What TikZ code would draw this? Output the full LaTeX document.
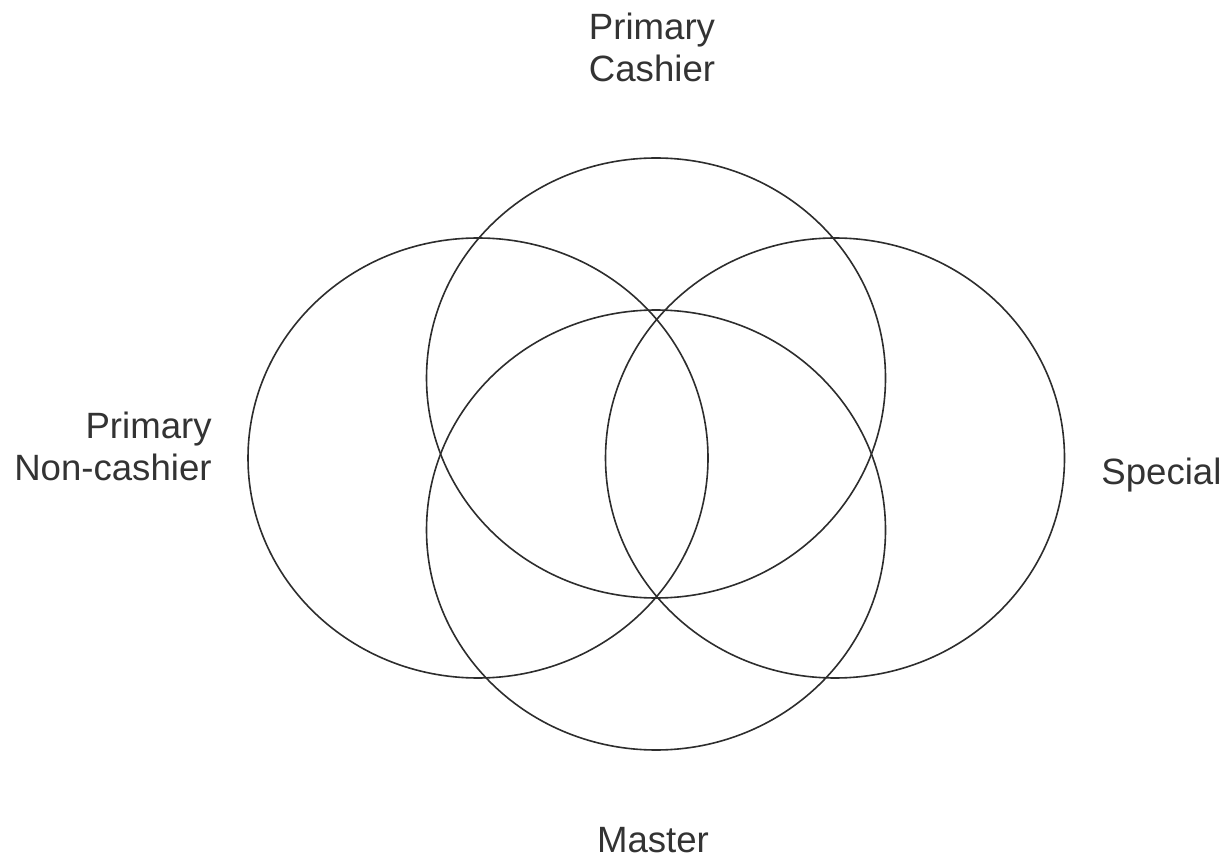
\documentclass[tikz,border=0pt]{standalone}
\usepackage{fontspec}
\setmainfont{Liberation Sans}
\usetikzlibrary{positioning}
\definecolor{vennline}{RGB}{45,45,45}
\definecolor{venntext}{RGB}{51,51,51}
\tikzset{
  venn/.style={draw=vennline,line width=.8pt},
  setlabel/.style={text=venntext,inner sep=0pt,align=center,
    font=\fontsize{18.3}{21}\selectfont}
}

\begin{document}
\begin{tikzpicture}[x=.5pt,y=-.5pt,line cap=round,line join=round]
\useasboundingbox (0,0) rectangle (1230,860);
% Vier Mengen als Ellipsen.
\draw[venn] (478,458) ellipse (230 and 220);
\draw[venn] (656,378) ellipse (229.5 and 220);
\draw[venn] (835,458) ellipse (229.5 and 220);
\draw[venn] (656,530) ellipse (229.5 and 220);
% Beschriftungen der Mengen.
\node[setlabel] (cashier) at (652,47) {Primary\\Cashier};
\node[setlabel,align=right,anchor=east] (noncashier) at (212,446) {Primary\\Non-cashier};
\node[setlabel,anchor=base west] (special) at (1101,484) {Special};
\node[setlabel,anchor=base] (master) at (653,852) {Master};
\end{tikzpicture}
\end{document}
